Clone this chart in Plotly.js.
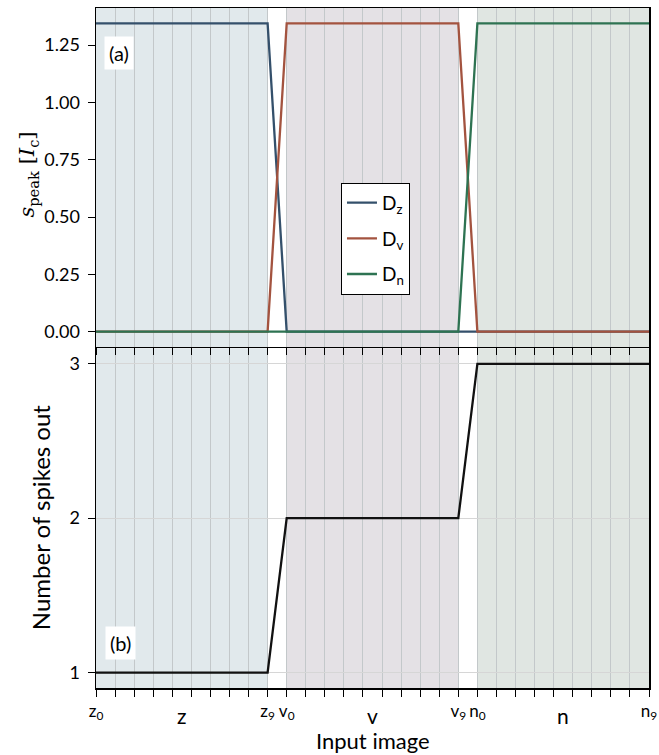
<!DOCTYPE html>
<html>
<head>
<meta charset="utf-8">
<script src="https://cdn.plot.ly/plotly-3.0.1.min.js"></script>
<style>html,body{margin:0;padding:0;background:#fff;}#chart{width:659px;height:755px;}</style>
</head>
<body>
<div id="chart"></div>
<script>
// ---- data ----
const imageIndex = [0,1,2,3,4,5,6,7,8,9,10,11,12,13,14,15,16,17,18,19,20,21,22,23,24,25,26,27,28,29];
const tickLabels = ["z<sub>0</sub>","","","","","","","","","z<sub>9</sub>",
                    "v<sub>0</sub>","","","","","","","","","v<sub>9</sub>",
                    "n<sub>0</sub>","","","","","","","","","n<sub>9</sub>"];
const groupNames = ["z","v","n"];
const groupCenters = [4.5, 14.5, 24.5];
const groupStart = [0, 10, 20];
const groupEnd = [9, 19, 29];
const seriesNames = ["D<sub>z</sub>","D<sub>v</sub>","D<sub>n</sub>"];
const speakDz = [1.345,1.345,1.345,1.345,1.345,1.345,1.345,1.345,1.345,1.345,0,0,0,0,0,0,0,0,0,0,0,0,0,0,0,0,0,0,0,0];
const speakDv = [0,0,0,0,0,0,0,0,0,0,1.345,1.345,1.345,1.345,1.345,1.345,1.345,1.345,1.345,1.345,0,0,0,0,0,0,0,0,0,0];
const speakDn = [0,0,0,0,0,0,0,0,0,0,0,0,0,0,0,0,0,0,0,0,1.345,1.345,1.345,1.345,1.345,1.345,1.345,1.345,1.345,1.345];
const spikesOut = [1,1,1,1,1,1,1,1,1,1,2,2,2,2,2,2,2,2,2,2,3,3,3,3,3,3,3,3,3,3];

// ---- style ----
const lineColors = ["#34506b","#a3533f","#2e7352"];
const shadeColors = ["#e1e9ec","#e4e1e5","#e0e6e2"];
const FONT = "Lato, 'Open Sans', sans-serif";

const traces = [
  {x: imageIndex, y: speakDz, name: seriesNames[0], legendgroup:"a", type:"scatter", mode:"lines", line:{color:lineColors[0], width:2.3}, xaxis:"x2", yaxis:"y2"},
  {x: imageIndex, y: speakDv, name: seriesNames[1], legendgroup:"b", type:"scatter", mode:"lines", line:{color:lineColors[1], width:2.3}, xaxis:"x2", yaxis:"y2"},
  {x: imageIndex, y: speakDn, name: seriesNames[2], legendgroup:"c", type:"scatter", mode:"lines", line:{color:lineColors[2], width:2.3}, xaxis:"x2", yaxis:"y2"},
  {x: imageIndex, y: spikesOut, name: "spikes", type:"scatter", mode:"lines", line:{color:"#111", width:2.3}, xaxis:"x", yaxis:"y", showlegend:false}
];

const shapes = [];
for (let i = 0; i < 3; i++) {
  shapes.push({type:"rect", xref:"x", yref:"y domain", x0:groupStart[i], x1:groupEnd[i], y0:0, y1:1,
    fillcolor:shadeColors[i], line:{width:0}, layer:"below"});
  shapes.push({type:"rect", xref:"x2", yref:"y2 domain", x0:groupStart[i], x1:groupEnd[i], y0:0, y1:1,
    fillcolor:shadeColors[i], line:{width:0}, layer:"below"});
}

const annotations = [];
for (let i = 0; i < 3; i++) {
  annotations.push({xref:"x", yref:"paper", x:groupCenters[i], y:-0.041, text:groupNames[i],
    showarrow:false, font:{family:FONT, size:21, color:"#000"}, xanchor:"center", yanchor:"middle"});
}
annotations.push({xref:"paper", yref:"paper", x:0.5, y:-0.077, text:"Input image", showarrow:false,
  font:{family:FONT, size:22, color:"#000"}, xanchor:"center", yanchor:"middle"});
annotations.push({xref:"paper", yref:"paper", x:-0.101, y:0.25, text:"Number of spikes out", textangle:-90,
  showarrow:false, font:{family:FONT, size:24, color:"#000"}, xanchor:"center", yanchor:"middle"});
annotations.push({xref:"paper", yref:"paper", x:-0.123, y:0.755, text:"<i>s</i><sub>peak</sub> [<i>I</i><sub>c</sub>]", textangle:-90,
  showarrow:false, font:{family:"'DejaVu Serif', serif", size:21, color:"#000"}, xanchor:"center", yanchor:"middle"});
annotations.push({xref:"paper", yref:"paper", x:0.042, y:0.934, text:"(a)", showarrow:false, bgcolor:"#fff",
  borderpad:4, font:{family:FONT, size:20, color:"#000"}, xanchor:"center", yanchor:"middle"});
annotations.push({xref:"paper", yref:"paper", x:0.044, y:0.066, text:"(b)", showarrow:false, bgcolor:"#fff",
  borderpad:4, font:{family:FONT, size:20, color:"#000"}, xanchor:"center", yanchor:"middle"});

const axCommon = {showline:true, linecolor:"#000", linewidth:1.5, mirror:true, ticks:"outside", ticklen:7,
  tickcolor:"#000", tickwidth:1, zeroline:false};

const layout = {
  width:659, height:755,
  margin:{l:96, r:10, t:8, b:67},
  paper_bgcolor:"#fff", plot_bgcolor:"rgba(0,0,0,0)",
  font:{family:FONT, size:18, color:"#000"},
  showlegend:true,
  legend:{x:0.443, y:0.743, xanchor:"left", yanchor:"top", bgcolor:"#fff", bordercolor:"#000", borderwidth:1,
    font:{family:FONT, size:19, color:"#000"}, itemwidth:30, traceorder:"grouped", tracegroupgap:8},
  xaxis: Object.assign({}, axCommon, {anchor:"y", domain:[0,1], range:[0,29], tickvals:imageIndex, ticktext:tickLabels,
    showgrid:true, gridcolor:"#c3c8ca", gridwidth:1, tickfont:{family:FONT, size:17}}),
  xaxis2: Object.assign({}, axCommon, {anchor:"y2", matches:"x", domain:[0,1], range:[0,29], tickvals:imageIndex, showticklabels:false,
    showgrid:true, gridcolor:"#c3c8ca", gridwidth:1}),
  yaxis: Object.assign({}, axCommon, {anchor:"x", domain:[0,0.4995], range:[0.9,3.1], tickvals:[1,2,3],
    showgrid:true, gridcolor:"#d6d6d6", gridwidth:1, tickfont:{family:FONT, size:18}, ticklabelstandoff:4}),
  yaxis2: Object.assign({}, axCommon, {anchor:"x2", domain:[0.5015,1], range:[-0.067,1.412],
    tickvals:[0,0.25,0.5,0.75,1,1.25], ticktext:["0.00","0.25","0.50","0.75","1.00","1.25"],
    showgrid:false, tickfont:{family:FONT, size:18}, ticklabelstandoff:4}),
  shapes: shapes,
  annotations: annotations
};

Plotly.newPlot("chart", traces, layout, {displayModeBar:false, staticPlot:true});
</script>
</body>
</html>
